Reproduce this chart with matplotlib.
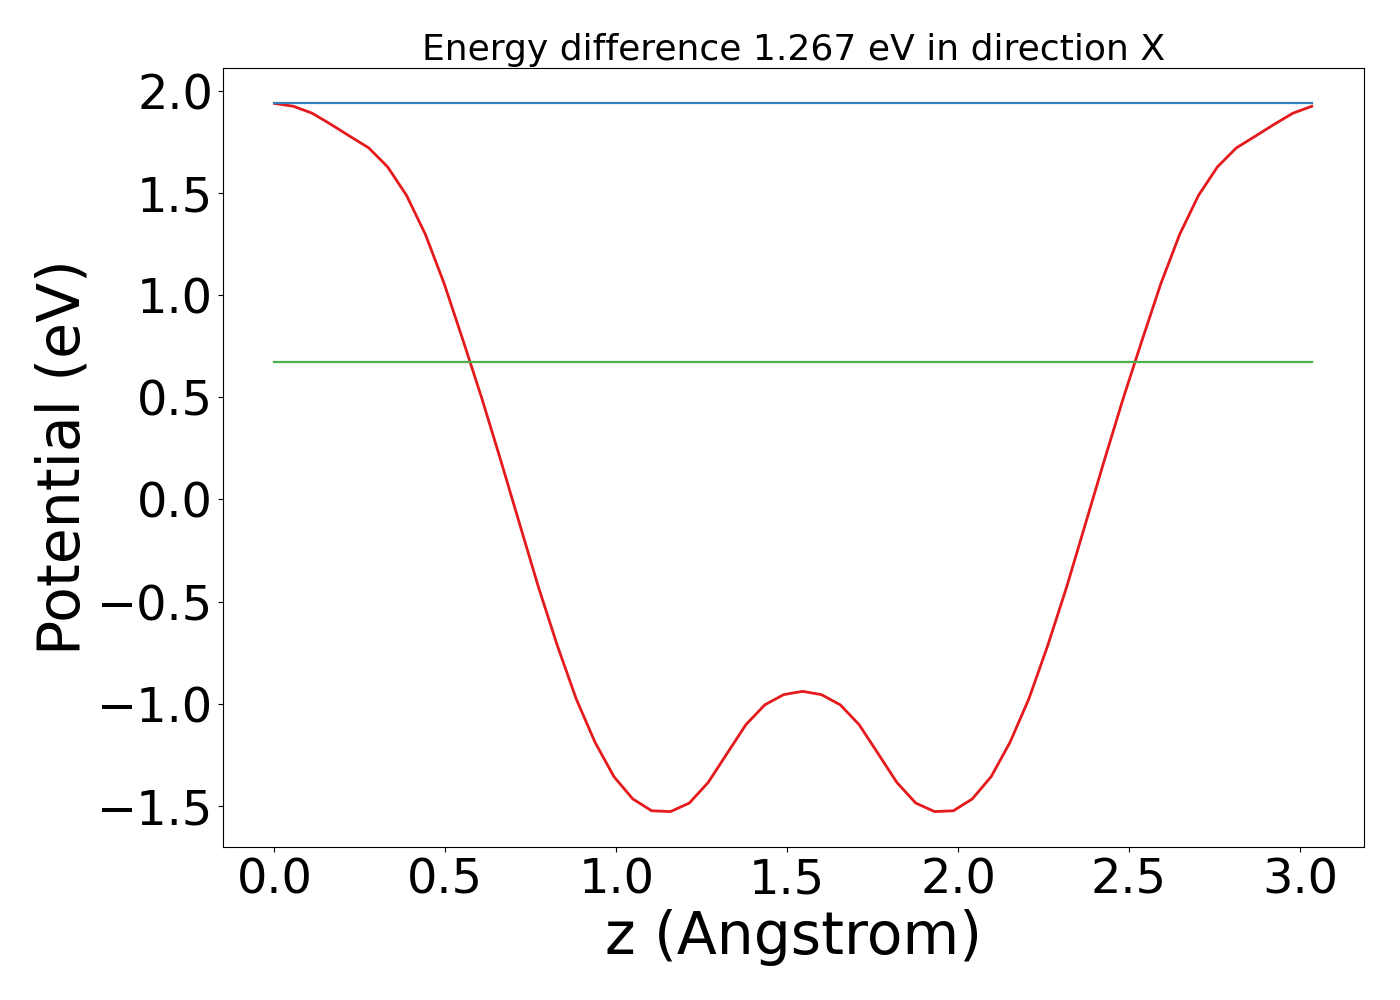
import numpy as np
import matplotlib
matplotlib.use("Agg")
import matplotlib.pyplot as plt

# potential along z, sampled on one period (last point = first point, not plotted)
z_step = 3.09 / 56
half_potential = [1.940, 1.926, 1.892, 1.837, 1.779, 1.722, 1.629, 1.490,
                  1.299, 1.057, 0.779, 0.494, 0.191, -0.120, -0.430, -0.716,
                  -0.977, -1.190, -1.358, -1.467, -1.525, -1.529, -1.487,
                  -1.386, -1.244, -1.103, -1.006, -0.956, -0.940]
energy_diff = 1.267
direction = "X"


def main():
    # the profile is symmetric around the middle of the cell
    potential = np.array(half_potential + half_potential[-2:0:-1])
    z = np.arange(len(potential)) * z_step
    v_max = potential.max()
    v_low = v_max - energy_diff

    fig = plt.figure(figsize=(14, 10), dpi=100)
    ax = fig.add_axes([0.159, 0.153, 0.815, 0.779])
    ax.plot(z, potential, color='#e41a1c', lw=2)
    ax.plot([z[0], z[-1]], [v_max, v_max], color='#377eb8', lw=1.6)
    ax.plot([z[0], z[-1]], [v_low, v_low], color='#4daf4a', lw=1.6)

    ax.set_title("Energy difference %.3f eV in direction %s" % (energy_diff, direction),
                 fontsize=26)
    ax.set_xlabel("z (Angstrom)", fontsize=42)
    ax.set_ylabel("Potential (eV)", fontsize=42)
    ax.tick_params(labelsize=34.5)
    fig.savefig("out.png", dpi=100)


if __name__ == "__main__":
    main()
